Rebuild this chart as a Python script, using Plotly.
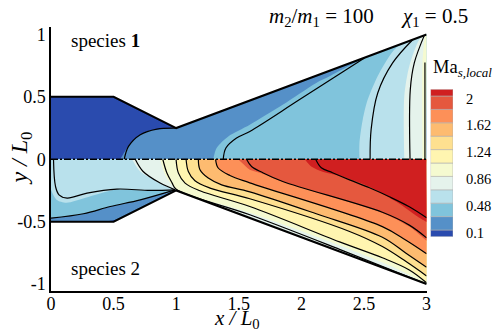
import plotly.graph_objects as go

FONT = "Liberation Serif"

# nozzle walls
wall_x = [0, 0.5, 1, 3]
wall_up = [0.5, 0.5, 0.25, 1]
wall_lo = [-0.5, -0.5, -0.25, -1]

# colour levels, low to high
level_ticks = [0.1, 0.48, 0.86, 1.24, 1.62, 2]
level_text = ["0.1", "0.48", "0.86", "1.24", "1.62", "2"]
band_edges = [0.005, 0.1, 0.29, 0.48, 0.67, 0.86, 1.05, 1.24, 1.43, 1.62, 1.81, 2.0, 2.095]
band_colors = ["#2a4bae", "#5590c8", "#80c4dc", "#b9e1ec", "#e5f3ec", "#f5fad0",
               "#fff5b0", "#fee090", "#fdbb70", "#fd9058", "#e5583e", "#d01f20"]

# species 1 band edges
up_blue_x = [0.553, 0.646, 0.766, 1.0]
up_blue_y = [0, 0.143, 0.223, 0.25]
up_steel_x = [1.296, 1.323, 1.416, 1.588, 1.851, 2.119, 2.225, 2.518]
up_steel_y = [0, 0.09, 0.183, 0.277, 0.437, 0.612, 0.665, 0.819]
up_pale_x = [2.464, 2.464, 2.49, 2.53, 2.623, 2.756, 2.889]
up_pale_y = [0, 0.13, 0.317, 0.478, 0.692, 0.892, 0.958]
up_mint_x = [2.822, 2.822, 2.862, 2.942, 2.982]
up_mint_y = [0, 0.504, 0.745, 0.959, 0.993]
up_lime_x = [2.968, 2.968, 2.987]
up_lime_y = [0, 0.772, 0.995]

# species 1 contour lines
c1_x = [0.585, 0.619, 0.713, 0.846, 1.0]
c1_y = [0, 0.103, 0.197, 0.242, 0.25]
c2_x = [1.376, 1.397, 1.482, 1.588, 1.986, 2.504]
c2_y = [0, 0.09, 0.17, 0.223, 0.478, 0.812]
c3_x = [2.549, 2.557, 2.61, 2.729, 2.889]
c3_y = [0, 0.237, 0.531, 0.772, 0.958]
c4_x = [2.868, 2.87, 2.902, 2.982]
c4_y = [0, 0.558, 0.772, 0.993]
c5_x = [2.987, 2.987]
c5_y = [0, 0.775]

# species 2 contour lines
d1_x = [0, 0.259, 0.474, 0.713, 0.991]
d1_y = [-0.472, -0.437, -0.379, -0.325, -0.245]
d2_x = [0.02, 0.036, 0.064, 0.129, 0.288, 0.527, 0.792, 0.991]
d2_y = [0, -0.218, -0.285, -0.311, -0.271, -0.239, -0.25, -0.245]
d3_x = [0.673, 0.736, 0.872, 0.991]
d3_y = [0, -0.098, -0.191, -0.245]
d4_x = [0.893, 0.925, 0.967, 1.0, 1.588, 2.305, 3]
d4_y = [0, -0.108, -0.189, -0.241, -0.445, -0.722, -1.0]
d5_x = [0.999, 1.018, 1.071, 1.19, 1.588, 2.305, 2.647, 2.862, 3]
d5_y = [0, -0.111, -0.191, -0.253, -0.379, -0.662, -0.79, -0.887, -0.99]
d6_x = [1.079, 1.097, 1.15, 1.27, 1.588, 2.385, 2.647, 2.836, 3]
d6_y = [0, -0.098, -0.173, -0.231, -0.317, -0.579, -0.7, -0.82, -0.935]
d7_x = [1.177, 1.19, 1.256, 1.363, 1.588, 2.119, 2.647, 2.836, 3]
d7_y = [0, -0.084, -0.151, -0.205, -0.261, -0.437, -0.625, -0.753, -0.865]
d8_x = [1.315, 1.334, 1.429, 1.588, 2.647, 2.836, 3]
d8_y = [0, -0.068, -0.13, -0.189, -0.54, -0.65, -0.758]
d9_x = [1.562, 1.602, 1.692, 1.851, 2.647, 2.862, 3]
d9_y = [0, -0.058, -0.108, -0.178, -0.425, -0.528, -0.63]
d10_x = [2.114, 2.159, 2.249, 2.385, 2.544, 2.703, 2.862, 3]
d10_y = [0, -0.068, -0.108, -0.165, -0.229, -0.301, -0.381, -0.469]

# species 2 band edges that do not sit on a contour line
lo_pale_x = [0, 0.044, 0.123, 0.275, 0.514, 0.792, 1.0]
lo_pale_y = [-0.245, -0.325, -0.349, -0.309, -0.245, -0.253, -0.245]
lo_mint_x = [0.647, 0.713, 0.846, 0.991]
lo_mint_y = [0, -0.098, -0.178, -0.245]
lo_lime_x = [0.872, 0.912, 1.007, 1.588, 2.305, 2.783, 3]
lo_lime_y = [0, -0.124, -0.245, -0.429, -0.69, -0.887, -1.0]
lo_coral_x = [1.493, 1.525, 1.588, 1.692, 1.851, 2.647, 2.862, 3]
lo_coral_y = [0, -0.028, -0.084, -0.116, -0.181, -0.43, -0.54, -0.654]
lo_red_x = [2.026, 2.082, 2.17, 2.305, 2.544, 2.783, 2.942, 3]
lo_red_y = [0, -0.06, -0.10, -0.132, -0.221, -0.357, -0.469, -0.502]
lo_sliver_x = [0.43, 0.5, 0.54]
lo_sliver_y = [-0.5, -0.5, -0.48]

fig = go.Figure()


def add_band(edge_x, edge_y, wall_y, color):
    # region to the right of an edge: follow the wall to the tip, back along y=0.
    # each corner is doubled so the spline stays sharp there
    xs, ys = list(edge_x), list(edge_y)
    tail = [(x, y) for x, y in zip(wall_x, wall_y) if x > edge_x[-1]]
    for x, y in [(edge_x[-1], edge_y[-1])] + tail + [(3, 0), (edge_x[0], 0)]:
        xs += [x, x + 0.001]
        ys += [y, y]
    fig.add_trace(go.Scatter(x=xs, y=ys, mode="lines", fill="toself", fillcolor=color,
                             line=dict(width=0, shape="spline", smoothing=0.8), hoverinfo="skip"))


def add_solid(xs, ys, color):
    fig.add_trace(go.Scatter(x=xs, y=ys, mode="lines", fill="toself", fillcolor=color,
                             line=dict(width=0), hoverinfo="skip"))


def add_line(xs, ys, width=1.2, dash="solid", shape="spline"):
    fig.add_trace(go.Scatter(x=xs, y=ys, mode="lines", hoverinfo="skip",
                             line=dict(color="black", width=width, dash=dash, shape=shape)))


# species 1 bands
add_solid(wall_x + [3, 0], wall_up + [0, 0], band_colors[0])
add_band(up_blue_x, up_blue_y, wall_up, band_colors[1])
add_band(up_steel_x, up_steel_y, wall_up, band_colors[2])
add_band(up_pale_x, up_pale_y, wall_up, band_colors[3])
add_band(up_mint_x, up_mint_y, wall_up, band_colors[4])
add_band(up_lime_x, up_lime_y, wall_up, band_colors[5])

# species 2 bands
add_solid(wall_x + [3, 0], wall_lo + [0, 0], band_colors[1])
add_solid(lo_sliver_x, lo_sliver_y, band_colors[0])
add_band(d1_x, d1_y, wall_lo, band_colors[2])
add_band(lo_pale_x, lo_pale_y, wall_lo, band_colors[3])
add_band(lo_mint_x, lo_mint_y, wall_lo, band_colors[4])
add_band(lo_lime_x, lo_lime_y, wall_lo, band_colors[5])
add_band(d5_x, d5_y, wall_lo, band_colors[6])
add_band(d6_x, d6_y, wall_lo, band_colors[7])
add_band(d7_x, d7_y, wall_lo, band_colors[8])
add_band(d8_x, d8_y, wall_lo, band_colors[9])
add_band(lo_coral_x, lo_coral_y, wall_lo, band_colors[10])
add_band(lo_red_x, lo_red_y, wall_lo, band_colors[11])

for cx, cy in [(c1_x, c1_y), (c2_x, c2_y), (c3_x, c3_y), (c4_x, c4_y), (c5_x, c5_y),
               (d1_x, d1_y), (d2_x, d2_y), (d3_x, d3_y), (d4_x, d4_y), (d5_x, d5_y),
               (d6_x, d6_y), (d7_x, d7_y), (d8_x, d8_y), (d9_x, d9_y), (d10_x, d10_y)]:
    add_line(cx, cy)

add_line(wall_x, wall_up, width=2, shape="linear")
add_line(wall_x, wall_lo, width=2, shape="linear")
add_line([0, 3], [0, 0], width=1.5, dash="7px,2px,2px,2px", shape="linear")

# colour bar
fig.add_trace(go.Bar(x=[0] * len(band_colors),
                     y=[b - a for a, b in zip(band_edges[:-1], band_edges[1:])],
                     base=band_edges[:-1], width=1, xaxis="x2", yaxis="y2",
                     marker=dict(color=band_colors, line=dict(color="#b0b0b0", width=0.6)),
                     hoverinfo="skip"))

# text placed by pixel position in the 497x332 picture, plot box is x 50.5-453.5, y 27-291
notes = [
    (68.5, 41, "species <b>1</b>", 19, 0),
    (68.5, 268, "species 2", 19, 0),
    (267, 17, "<i>m</i><sub>2</sub>/<i>m</i><sub>1</sub> = 100", 21, 0),
    (399, 17, "<i>χ</i><sub>1</sub> = 0.5", 21, 0),
    (431, 68, "Ma<sub><i>s,local</i></sub>", 18.5, 0),
    (212, 318.5, "<i>x / L</i><sub>0</sub>", 21, 0),
    (20, 158, "<i>y / L</i><sub>0</sub>", 24, -90),
]
annotations = [dict(x=(x - 50.5) / 403, y=(291 - y) / 264, xref="paper", yref="paper", text=text,
                    showarrow=False, textangle=angle, xanchor="center" if angle else "left", yanchor="middle",
                    font=dict(family=FONT, size=size, color="black"))
               for x, y, text, size, angle in notes]

fig.update_layout(
    width=497,
    height=332,
    margin=dict(l=50.5, r=43.5, t=27, b=41, autoexpand=False),
    paper_bgcolor="white",
    plot_bgcolor="white",
    showlegend=False,
    barmode="overlay",
    annotations=annotations,
    xaxis=dict(domain=[0, 376.5 / 403], range=[0, 3], showgrid=False, zeroline=False,
               showline=True, linecolor="black", linewidth=1.5,
               tickvals=[0, 0.5, 1, 1.5, 2, 2.5, 3], ticktext=["0", "0.5", "1", "1.5", "2", "2.5", "3"],
               ticks="", ticklabelstandoff=-4,
               tickfont=dict(family=FONT, size=18, color="black")),
    yaxis=dict(range=[-1.056, 1.06], showgrid=False, zeroline=False,
               showline=True, linecolor="black", linewidth=1.5,
               tickvals=[-1, -0.5, 0, 0.5, 1], ticktext=["-1", "-0.5", "0", "0.5", "1"],
               ticks="", tickfont=dict(family=FONT, size=18, color="black")),
    xaxis2=dict(domain=[380.5 / 403, 1], range=[-0.5, 0.5], visible=False, anchor="y2"),
    yaxis2=dict(domain=[54.3 / 264, 201.7 / 264], range=[0.005, 2.095], anchor="x2", side="right",
                showgrid=False, zeroline=False, showline=False,
                # labels sit a little under their level in the original
                tickvals=[v - 0.036 for v in level_ticks], ticktext=level_text,
                ticks="outside", ticklen=9, tickcolor="rgba(0,0,0,0)",
                tickfont=dict(family=FONT, size=14.5, color="black")),
)

# the page's default body margin would shift the figure by 8px
fig.write_html("out.html", config={"displayModeBar": False},
               post_script="document.body.style.margin = '0';")
